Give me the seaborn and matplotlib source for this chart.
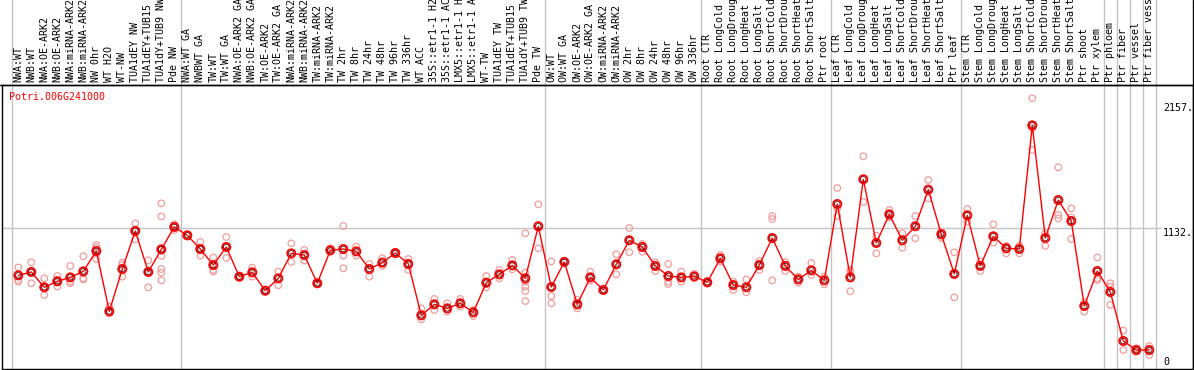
import pandas as pd
import matplotlib
matplotlib.use("Agg")
import matplotlib.pyplot as plt
import matplotlib.transforms as mtransforms
from matplotlib.lines import Line2D
import seaborn as sns

GENE = "Potri.006G241000"

samples = [
    "NWA:WT", "NWB:WT", "NWA:OE-ARK2", "NWB:OE-ARK2", "NWA:miRNA-ARK2", "NWB:miRNA-ARK2",
    "NW 0hr", "WT H2O", "WT-NW", "TUA1dEY NW", "TUA1dEY+TUB15 NW", "TUA1dY+TUB9 NW", "Pde NW",
    "NWA:WT GA", "NWBWT GA", "TW:WT", "TW:WT GA", "NWA:OE-ARK2 GA", "NWB:OE-ARK2 GA",
    "TW:OE-ARK2", "TW:OE-ARK2 GA", "NWA:miRNA-ARK2", "NWB:miRNA-ARK2", "TW:miRNA-ARK2",
    "TW:miRNA-ARK2", "TW 2hr", "TW 8hr", "TW 24hr", "TW 48hr", "TW 96hr", "TW 336hr",
    "WT ACC", "35S::etr1-1 H2O", "35S::etr1-1 ACC", "LMX5::etr1-1 H2O", "LMX5::etr1-1 ACC",
    "WT-TW", "TUA1dEY TW", "TUA1dEY+TUB15 TW", "TUA1dY+TUB9 TW", "Pde TW",
    "OW:WT", "OW:WT GA", "OW:OE-ARK2", "OW:OE-ARK2 GA", "OW:miRNA-ARK2", "OW:miRNA-ARK2",
    "OW 2hr", "OW 8hr", "OW 24hr", "OW 48hr", "OW 96hr", "OW 336hr",
    "Root CTR", "Root LongCold", "Root LongDrought", "Root LongHeat", "Root LongSalt",
    "Root ShortCold", "Root ShortDrought", "Root ShortHeat", "Root ShortSalt", "Ptr root",
    "Leaf CTR", "Leaf LongCold", "Leaf LongDrought", "Leaf LongHeat", "Leaf LongSalt",
    "Leaf ShortCold", "Leaf ShortDrought", "Leaf ShortHeat", "Leaf ShortSalt", "Ptr leaf",
    "Stem CTR", "Stem LongCold", "Stem LongDrought", "Stem LongHeat", "Stem LongSalt",
    "Stem ShortCold", "Stem ShortDrought", "Stem ShortHeat", "Stem ShortSalt", "Ptr shoot",
    "Ptr xylem", "Ptr phloem", "Ptr fiber", "Ptr vessel", "Ptr fiber vessel",
]

means = [
    733, 762, 632, 683, 716, 767, 940, 428, 787, 1110, 762, 954, 1144,
    1073, 957, 821, 974, 722, 759, 603, 708, 920, 906, 666, 946, 957, 937, 787, 841, 923, 830,
    394, 487, 453, 496, 419, 671, 742, 818, 708, 1150,
    634, 847, 487, 716, 609, 827, 1031, 974, 813, 728, 716, 725,
    674, 878, 651, 632, 821, 1050, 813, 699, 776, 691,
    1339, 716, 1549, 1008, 1251, 1031, 1150, 1461, 1082, 745,
    1243, 813, 1065, 963, 957, 2007, 1050, 1373, 1195, 473,
    770, 592, 176, 99, 99,
]

replicates = [
    [801, 694, 680], [844, 666, 765], [708, 566, 637], [728, 637, 694], [813, 666, 680],
    [895, 699, 708], [991, 971, 872, 920], [467, 411, 416], [841, 722, 821], [1175, 1039, 1118],
    [861, 632, 765], [1345, 1234, 898, 787, 756, 691, 954], [1167, 1118, 1147],
    [1073, 1082], [1017, 901, 957], [886, 779, 765], [1059, 881, 977], [728, 716],
    [799, 722], [609, 595], [765, 649], [1005, 847], [949, 858], [671, 660],
    [963, 934], [1152, 901, 793], [977, 901], [830, 722], [878, 813], [929, 915], [872, 779],
    [453, 360], [533, 439], [496, 425], [533, 467], [439, 388], [728, 632], [779, 708],
    [864, 784], [1090, 756, 680, 637, 600, 515], [1336, 963],
    [852, 558, 496], [847, 858], [524, 453], [765, 688], [609, 614], [912, 742],
    [1135, 929], [999, 934], [844, 770], [830, 680, 660], [765, 680], [745, 708],
    [680, 666], [906, 850], [680, 609], [699, 589], [855, 779], [1237, 1212, 691],
    [844, 770], [722, 671], [838, 736], [722, 657],
    [1475, 1302, 1237], [779, 765, 598], [1744, 1356], [1070, 920], [1288, 1226],
    [1090, 968], [1237, 1048], [1543, 1387], [1104, 1053], [929, 547],
    [1297, 1189], [850, 770], [1167, 1011], [983, 920], [985, 920], [2237, 1982, 1798],
    [1090, 983], [1651, 1246, 1217], [1302, 1226, 1042], [504, 425],
    [886, 708, 694], [666, 637, 482], [264, 99], [114, 85], [133, 57],
]

group_breaks = [-0.5, 12.5, 40.5, 52.5, 62.5, 72.5, 83.5, 84.5, 85.5, 86.5, 87.5]
ref_values = [0, 1132, 2157]
ref_labels = ["0", "1132.", "2157."]


def main():
    sns.set_style("white")
    plt.rcParams["font.family"] = ["DejaVu Sans Mono"]

    W, H = 1194, 370
    left, right, top, bottom = 1.5, 1192.7, 85.0, 369.3
    fig = plt.figure(figsize=(W / 100, H / 100), dpi=100)
    ax = fig.add_axes([left / W, (H - bottom) / H, (right - left) / W, (bottom - top) / H])

    # pixel calibration of the original: sample i at 18.3 + 13 i, value 0 at y=361.7
    x0, dx = 18.3, 13.0
    y0, k = 361.7, 0.11776
    ax.set_xlim((left - x0) / dx, (right - x0) / dx)
    ax.set_ylim((y0 - bottom) / k, (y0 - top) / k)

    idx = list(range(len(samples)))
    rep_df = pd.DataFrame(
        [(i, v) for i, reps in enumerate(replicates) for v in reps], columns=["sample", "value"]
    )
    mean_df = pd.DataFrame({"sample": idx, "value": means})

    # grid / group separators
    for b in group_breaks:
        ax.axvline(b, ymin=0, ymax=bottom / (bottom - top), color="#c4c4c4", lw=1.0,
                   clip_on=False, zorder=0)
    ax.axhline(1132, xmin=0, xmax=(1160 - left) / (right - left), color="#c4c4c4", lw=1.0, zorder=0)

    # replicates
    sns.scatterplot(data=rep_df, x="sample", y="value", color="#f09a9a", s=22, ax=ax,
                    legend=False, zorder=2)
    pts = ax.collections[-1]
    pts.set_facecolor("none")
    pts.set_edgecolor("#f29c9c")
    pts.set_linewidth(0.9)

    # means
    sns.lineplot(data=mean_df, x="sample", y="value", color="red", lw=1.0, ax=ax,
                 estimator=None, sort=False, zorder=3)
    sns.scatterplot(data=mean_df, x="sample", y="value", color="red", s=36, ax=ax,
                    legend=False, zorder=4)
    m = ax.collections[-1]
    m.set_facecolor("none")
    m.set_edgecolor("red")
    m.set_linewidth(1.2)
    sns.scatterplot(data=mean_df, x="sample", y="value", color="black", s=16, ax=ax,
                    legend=False, zorder=5)
    m2 = ax.collections[-1]
    m2.set_facecolor("none")
    m2.set_edgecolor("#5a0000")
    m2.set_linewidth(0.6)

    ax.set_xticks([])
    ax.set_yticks([])
    ax.set_xlabel("")
    ax.set_ylabel("")
    for sp in ax.spines.values():
        sp.set_color("black")
        sp.set_linewidth(1.0)

    # sample labels above the plot (long names run off the top, as in the original)
    lab_tr = mtransforms.blended_transform_factory(ax.transData, fig.transFigure)
    for i, name in enumerate(samples):
        ax.text(i, (H - 82) / H, name, rotation=90, ha="center", va="bottom",
                fontsize=7.2, color="black", transform=lab_tr, clip_on=False)

    # value labels on the right
    val_tr = mtransforms.blended_transform_factory(ax.transAxes, ax.transData)
    xf = (1163 - left) / (right - left)
    for v, s in zip(ref_values, ref_labels):
        va = "top" if s == "1132." else "center"
        ax.text(xf, v, s, ha="left", va=va, fontsize=7.2, color="black", transform=val_tr)

    ax.text((9 - left) / (right - left), (bottom - 97) / (bottom - top), GENE, color="red",
            fontsize=7.2, ha="left", va="center", transform=ax.transAxes)

    # frame pieces extending into the label area
    fig.add_artist(Line2D([0, right / W], [(H - top) / H] * 2, transform=fig.transFigure,
                          color="black", lw=1.0))
    fig.add_artist(Line2D([right / W] * 2, [(H - bottom) / H, 1], transform=fig.transFigure,
                          color="black", lw=1.0))

    fig.savefig("out.png", dpi=100, facecolor="white")
    plt.close(fig)


if __name__ == "__main__":
    main()
